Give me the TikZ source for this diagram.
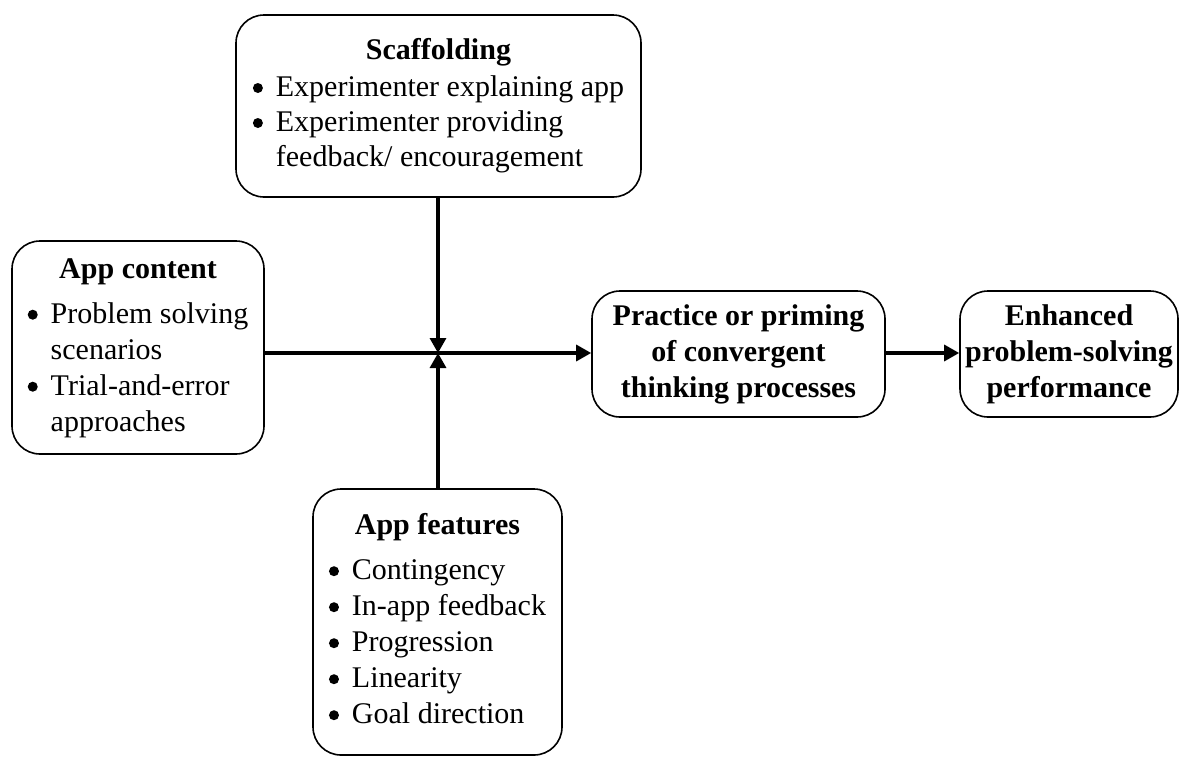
\documentclass[tikz,border=0pt]{standalone}
\usepackage{fontspec}
\setmainfont{Liberation Serif}
\usetikzlibrary{arrows.meta}
\newcommand\bul{\makebox[23pt][l]{\tikz[baseline=0pt]\fill[black] (5pt,8.5pt) circle[radius=5pt];}}
\newcommand\ind{\hspace*{23pt}}
\begin{document}
\begin{tikzpicture}[x=1pt,y=-1pt,
  box/.style={draw, line width=1.6pt, rounded corners=28pt, inner sep=0pt,
    font=\fontsize{30}{36}\selectfont},
  arr/.style={line width=3.2pt, -{Triangle[length=15pt,width=16pt]}}]
\useasboundingbox (0,0) rectangle (1182,756);
\node[box, minimum width=405pt, minimum height=182pt, font=\fontsize{30}{35}\selectfont] (scaf) at (438.5,106)
  {\raisebox{-6pt}{\begin{tabular}{@{}l@{}}\multicolumn{1}{c}{\textbf{Scaffolding}}\\[2pt]
   \bul Experimenter explaining app\\
   \bul Experimenter providing\\
   \ind feedback/ encouragement\end{tabular}}};
\node[box, minimum width=252pt, minimum height=213pt] (cont) at (138,347.5)
  {\raisebox{-5pt}{\begin{tabular}{@{}l@{}}\multicolumn{1}{c}{\textbf{App content}}\\[9pt]
   \bul Problem solving\\
   \ind scenarios\\
   \bul Trial-and-error\\
   \ind approaches\end{tabular}}};
\node[box, minimum width=249pt, minimum height=266pt] (feat) at (437.5,622)
  {\raisebox{3pt}{\begin{tabular}{@{}l@{}}\multicolumn{1}{c}{\textbf{App features}}\\[9pt]
   \bul Contingency\\
   \bul In-app feedback\\
   \bul Progression\\
   \bul Linearity\\
   \bul Goal direction\end{tabular}}};
\node[box, minimum width=293pt, minimum height=126pt] (prac) at (738.5,354)
  {\begin{tabular}{@{}c@{}}\textbf{Practice or priming}\\
   \textbf{of convergent}\\
   \textbf{thinking processes}\end{tabular}};
\node[box, minimum width=218pt, minimum height=126pt] (enh) at (1069,354)
  {\begin{tabular}{@{}c@{}}\textbf{Enhanced}\\
   \textbf{problem-solving}\\
   \textbf{performance}\end{tabular}};
\coordinate (jn) at (438,353);
\draw[arr] (scaf.south -| jn) -- (jn);
\draw[arr] (feat.north -| jn) -- (jn);
\draw[arr] (cont.east |- jn) -- (prac.west |- jn);
\draw[arr] (prac.east |- jn) -- (enh.west |- jn);
\end{tikzpicture}
\end{document}
